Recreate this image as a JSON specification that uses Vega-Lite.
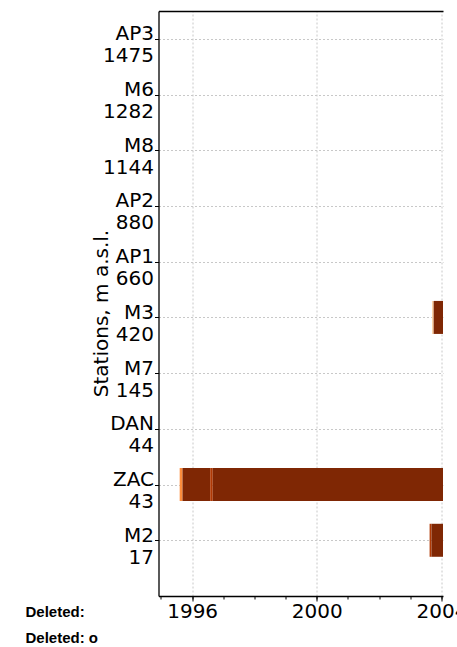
{
  "$schema": "https://vega.github.io/schema/vega-lite/v6.json",
  "width": 284.5,
  "height": 585,
  "autosize": {"type": "none"},
  "padding": {"left": 158.5, "top": 11, "right": 14, "bottom": 51},
  "background": "white",
  "config": {
    "view": {"stroke": null},
    "font": "DejaVu Sans",
    "axis": {
      "labelFont": "DejaVu Sans",
      "labelFontSize": 20,
      "labelColor": "#000000",
      "tickColor": "#000000",
      "domainColor": "#000000",
      "domainWidth": 1.3,
      "gridColor": "#c8c8c8",
      "gridDash": [2, 2],
      "gridWidth": 1,
      "titleFont": "DejaVu Sans",
      "titleFontWeight": "normal",
      "titleColor": "#000000"
    }
  },
  "title": {
    "text": "Deleted:",
    "subtitle": "Deleted: o",
    "orient": "bottom",
    "anchor": "start",
    "frame": "group",
    "dx": -133,
    "offset": -16,
    "font": "Liberation Sans",
    "fontSize": 15,
    "fontWeight": "bold",
    "color": "#000000",
    "subtitleFont": "Liberation Sans",
    "subtitleFontSize": 15,
    "subtitleFontWeight": "bold",
    "subtitleColor": "#000000",
    "subtitlePadding": 11
  },
  "data": {
    "values": [
      {"station": "ZAC 43", "start": 1995.6, "end": 1995.69, "coverage": 0.5},
      {"station": "ZAC 43", "start": 1995.69, "end": 1996.58, "coverage": 1.0},
      {"station": "ZAC 43", "start": 1996.58, "end": 1996.66, "coverage": 0.86},
      {"station": "ZAC 43", "start": 1996.66, "end": 2004.3, "coverage": 1.0},
      {"station": "M3 420", "start": 2003.7, "end": 2003.75, "coverage": 0.25},
      {"station": "M3 420", "start": 2003.75, "end": 2004.3, "coverage": 1.0},
      {"station": "M2 17", "start": 2003.62, "end": 2003.68, "coverage": 0.86},
      {"station": "M2 17", "start": 2003.68, "end": 2004.3, "coverage": 1.0}
    ]
  },
  "resolve": {"scale": {"x": "shared"}, "axis": {"x": "independent"}},
  "layer": [
    {
      "mark": {"type": "bar", "size": 33, "clip": true},
      "encoding": {
        "x": {
          "field": "start",
          "type": "quantitative",
          "scale": {"domain": [1994.92, 2004.05], "zero": false, "nice": false},
          "axis": {
            "orient": "bottom",
            "values": [1996, 2000, 2004],
            "format": "d",
            "grid": true,
            "tickSize": 5,
            "labelPadding": 0,
            "title": null,
            "labelOverlap": false,
            "labelBound": false,
            "labelFlush": false
          }
        },
        "x2": {"field": "end"},
        "y": {
          "field": "station",
          "type": "ordinal",
          "scale": {
            "type": "point",
            "domain": ["AP3 1475", "M6 1282", "M8 1144", "AP2 880", "AP1 660", "M3 420", "M7 145", "DAN 44", "ZAC 43", "M2 17"],
            "padding": 0.75,
            "align": 0.3333
          },
          "axis": {
            "title": "Stations, m a.s.l.",
            "titleFontSize": 20,
            "titleX": -47,
            "titleY": 302,
            "titleAngle": -90,
            "grid": true,
            "tickSize": 4,
            "labelPadding": 1,
            "labelExpr": "split(datum.label, ' ')",
            "labelLineHeight": 22,
            "labelBaseline": "middle",
            "labelOffset": -5
          }
        },
        "color": {
          "field": "coverage",
          "type": "quantitative",
          "scale": {
            "type": "linear",
            "domain": [0, 0.25, 0.5, 0.75, 1],
            "range": ["#fff5eb", "#fdd0a2", "#fd8d3c", "#d94801", "#7f2704"]
          },
          "legend": null
        }
      }
    },
    {
      "mark": {"type": "tick", "opacity": 0},
      "encoding": {
        "x": {
          "field": "start",
          "type": "quantitative",
          "axis": {
            "orient": "bottom",
            "values": [1995, 1996, 1997, 1998, 1999, 2000, 2001, 2002, 2003, 2004],
            "labels": false,
            "grid": false,
            "domain": false,
            "tickSize": 3,
            "title": null
          }
        }
      }
    },
    {
      "mark": {"type": "tick", "opacity": 0},
      "encoding": {
        "x": {
          "field": "start",
          "type": "quantitative",
          "axis": {
            "orient": "top",
            "labels": false,
            "ticks": false,
            "grid": false,
            "domain": true,
            "title": null
          }
        }
      }
    }
  ]
}
